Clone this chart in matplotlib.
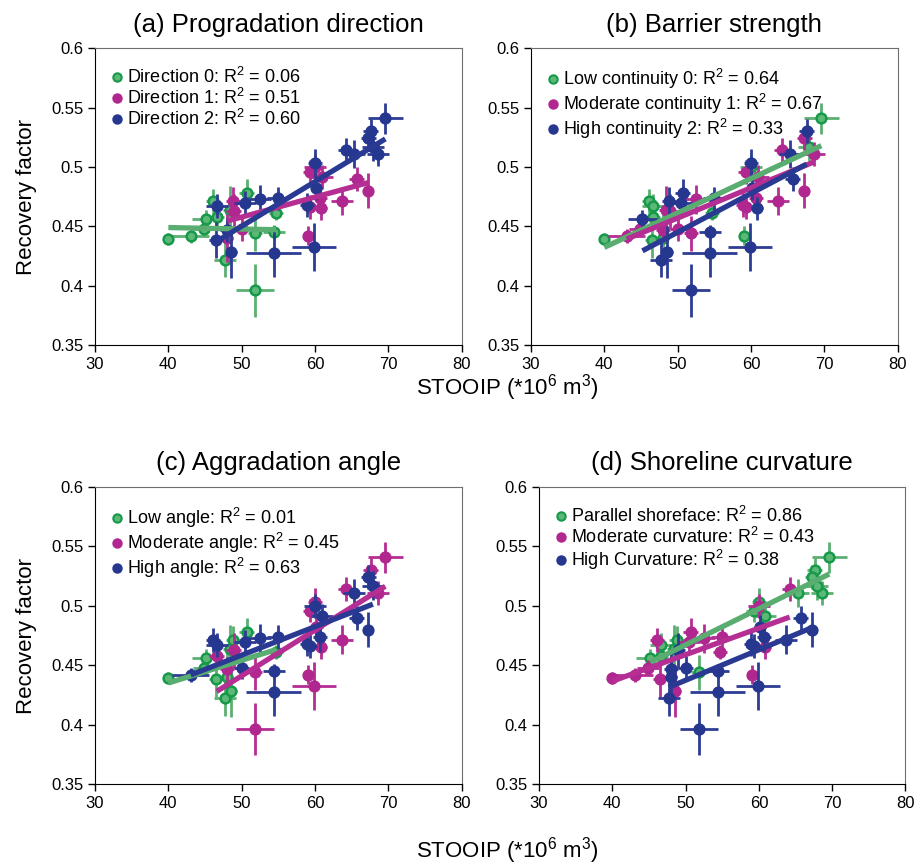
import matplotlib
matplotlib.use('Agg')
import matplotlib.pyplot as plt
from matplotlib.lines import Line2D
import numpy as np

plt.rcParams['font.family'] = ['Liberation Sans', 'DejaVu Sans']
plt.rcParams['mathtext.fontset'] = 'custom'
plt.rcParams['mathtext.rm'] = 'Liberation Sans'
plt.rcParams['mathtext.it'] = 'Liberation Sans'

# one point per simulation: STOOIP (*10^6 m3), recovery factor, and their spread
stooip = [40.0, 43.05, 45.2, 44.9, 46.1, 46.6, 48.4, 50.7, 47.7, 51.8, 54.4, 54.7, 51.8,
          48.8, 48.0, 48.9, 50.0, 59.0, 60.0, 59.3, 60.9, 60.7, 60.8, 63.7, 59.3, 65.7, 67.3,
          46.6, 46.5, 48.6, 48.0, 50.5, 52.5, 55.0, 54.4, 59.9, 60.0, 60.2, 58.9, 64.2,
          67.6, 67.3, 69.6, 68.6, 67.9, 65.3]
stooip_err = [0.5, 2.5, 2.0, 1.5, 1.0, 1.0, 1.0, 1.0, 1.5, 2.6, 1.5, 1.0, 1.0,
              1.0, 0.8, 1.0, 1.0, 0.5, 1.5, 1.0, 1.5, 1.0, 0.8, 1.5, 1.0, 1.0, 0.5,
              1.5, 1.0, 0.8, 1.0, 1.5, 1.5, 1.5, 3.75, 3.0, 1.0, 0.8, 1.0, 1.0,
              1.0, 1.0, 2.4, 1.5, 1.5, 1.5]
rf = [0.439, 0.442, 0.456, 0.448, 0.471, 0.458, 0.4636, 0.4777, 0.422, 0.396, 0.445, 0.461, 0.444,
      0.471, 0.440, 0.4625, 0.448, 0.442, 0.500, 0.496, 0.4917, 0.4735, 0.465, 0.4715, 0.4664, 0.490, 0.480,
      0.467, 0.4384, 0.4285, 0.4468, 0.4693, 0.4726, 0.4735, 0.4272, 0.4327, 0.503, 0.482, 0.468, 0.5145,
      0.530, 0.524, 0.541, 0.511, 0.517, 0.511]
rf_err = [0.005, 0.006, 0.008, 0.006, 0.010, 0.008, 0.020, 0.012, 0.015, 0.022, 0.006, 0.006, 0.015,
          0.012, 0.020, 0.015, 0.010, 0.008, 0.010, 0.010, 0.010, 0.012, 0.010, 0.012, 0.010, 0.010, 0.015,
          0.010, 0.015, 0.022, 0.010, 0.010, 0.012, 0.010, 0.020, 0.020, 0.012, 0.010, 0.010, 0.010,
          0.010, 0.010, 0.013, 0.010, 0.012, 0.012]

# class of each point for the four parameters
group_a = [0]*13 + [1]*14 + [2]*19
group_b = [0, 1, 2, 1, 0, 0, 1, 2, 2, 2, 2, 0, 1,
           2, 0, 1, 1, 0, 0, 1, 1, 1, 2, 1, 1, 2, 1,
           0, 0, 2, 1, 2, 1, 2, 2, 2, 2, 2, 1, 1,
           2, 1, 0, 1, 0, 2]
group_c = [0, 2, 0, 0, 2, 1, 0, 0, 0, 1, 2, 0, 1,
           0, 0, 1, 2, 1, 2, 1, 2, 2, 1, 1, 2, 2, 2,
           2, 0, 0, 1, 2, 2, 2, 2, 1, 1, 1, 2, 1,
           1, 2, 1, 1, 2, 2]
group_d = [1, 1, 0, 1, 1, 0, 0, 1, 2, 2, 2, 1, 0,
           0, 2, 2, 2, 1, 1, 0, 0, 2, 1, 2, 2, 2, 2,
           0, 1, 1, 2, 1, 1, 1, 2, 2, 0, 2, 2, 1,
           0, 0, 0, 0, 0, 0]

titles = ['(a) Progradation direction', '(b) Barrier strength',
          '(c) Aggradation angle', '(d) Shoreline curvature']
legend_labels = [
    ['Direction 0: R$^2$ = 0.06', 'Direction 1: R$^2$ = 0.51', 'Direction 2: R$^2$ = 0.60'],
    ['Low continuity 0: R$^2$ = 0.64', 'Moderate continuity 1: R$^2$ = 0.67', 'High continuity 2: R$^2$ = 0.33'],
    ['Low angle: R$^2$ = 0.01', 'Moderate angle: R$^2$ = 0.45', 'High angle: R$^2$ = 0.63'],
    ['Parallel shoreface: R$^2$ = 0.86', 'Moderate curvature: R$^2$ = 0.43', 'High Curvature: R$^2$ = 0.38'],
]
groups = [group_a, group_b, group_c, group_d]

marker_face = ['#5cb877', '#b0278f', '#26378f']
marker_edge = ['#17994a', '#b0278f', '#26378f']
bar_color = ['#5caf72', '#b52e93', '#2d3c94']
line_color = ['#5aad70', '#b52e93', '#2a3a93']

x = np.array(stooip)
xe = np.array(stooip_err)
y = np.array(rf)
ye = np.array(rf_err)

fig = plt.figure(figsize=(9.14, 8.68), dpi=100)
positions = [[0.104, 0.6025, 0.401, 0.342], [0.581, 0.6025, 0.401, 0.342],
             [0.104, 0.0968, 0.401, 0.342], [0.5897, 0.0968, 0.401, 0.342]]

for k in range(4):
    ax = fig.add_axes(positions[k])
    g = np.array(groups[k])
    for c in range(3):
        m = g == c
        ax.errorbar(x[m], y[m], xerr=xe[m], yerr=ye[m], fmt='o', ms=7,
                    mfc=marker_face[c], mec=marker_edge[c], mew=1.8,
                    ecolor=bar_color[c], elinewidth=2.0, capsize=0, zorder=2 + c)
    for c in range(3):
        m = g == c
        a, b = np.polyfit(x[m], y[m], deg=1)
        z = np.array([x[m].min(), x[m].max()])
        ax.plot(z, a * z + b, color=line_color[c], lw=3.8, solid_capstyle='butt', zorder=6 + c)

    handles = [Line2D([], [], ls='none', marker='o', ms=6, mfc=marker_face[c],
                      mec=marker_edge[c], mew=1.5) for c in range(3)]
    ax.legend(handles, legend_labels[k], loc='upper left', bbox_to_anchor=(-0.005, 0.985),
              frameon=False, fontsize=13, handletextpad=0.05, labelspacing=0.05,
              borderaxespad=0.3, handlelength=1.0, borderpad=0.5)

    ax.set_xlim(30, 80)
    ax.set_ylim(0.35, 0.6)
    ax.set_xticks([30, 40, 50, 60, 70, 80])
    ax.set_yticks([0.35, 0.4, 0.45, 0.5, 0.55, 0.6])
    ax.set_yticklabels(['0.35', '0.4', '0.45', '0.5', '0.55', '0.6'])
    ax.tick_params(direction='out', length=5, width=1, labelsize=12, colors='black')
    ax.spines['top'].set_color('#6e6e6e')
    ax.spines['right'].set_color('#6e6e6e')
    ax.set_title(titles[k], fontsize=18.5, pad=12)
    if k % 2 == 0:
        ax.set_ylabel('Recovery factor', fontsize=16, labelpad=10)

fig.text(0.555, 0.554, 'STOOIP (*10$^6$ m$^3$)', ha='center', va='center', fontsize=16)
fig.text(0.555, 0.02, 'STOOIP (*10$^6$ m$^3$)', ha='center', va='center', fontsize=16)

fig.savefig('out.png', dpi=100)
